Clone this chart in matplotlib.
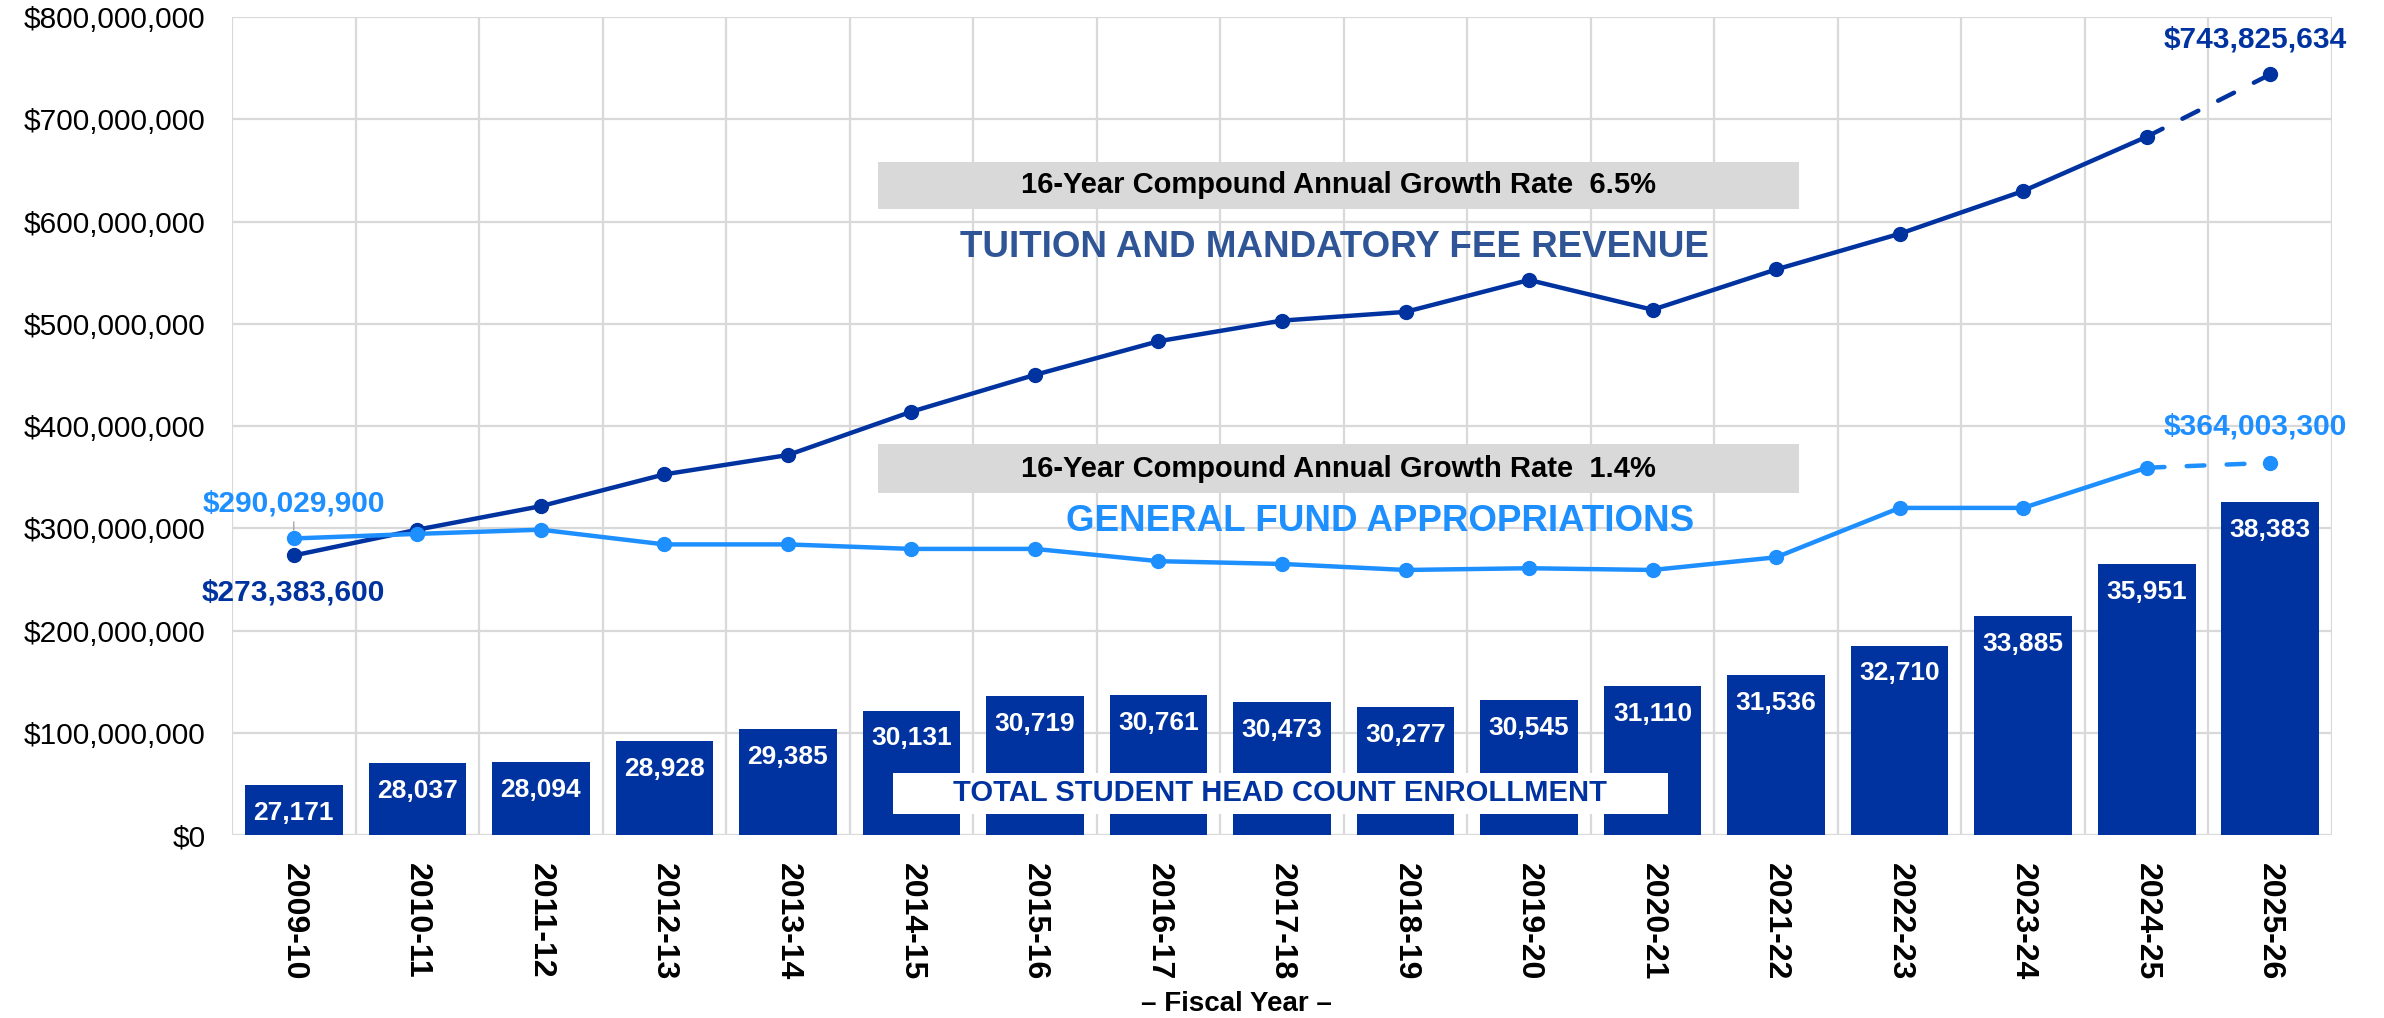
import numpy as np
import matplotlib
matplotlib.use("Agg")
import matplotlib.pyplot as plt
from matplotlib.patches import Rectangle
from matplotlib import transforms

plt.rcParams["font.family"] = ["Liberation Sans", "DejaVu Sans"]

years = ["2009-10", "2010-11", "2011-12", "2012-13", "2013-14", "2014-15", "2015-16",
         "2016-17", "2017-18", "2018-19", "2019-20", "2020-21", "2021-22", "2022-23",
         "2023-24", "2024-25", "2025-26"]

enrollment = [27171, 28037, 28094, 28928, 29385, 30131, 30719, 30761, 30473, 30277,
              30545, 31110, 31536, 32710, 33885, 35951, 38383]

tuition = [273383600, 298600000, 321600000, 352700000, 371600000, 414000000, 450000000,
           482900000, 503100000, 511600000, 542800000, 513700000, 553100000, 588000000,
           629800000, 682900000, 743825634]

general_fund = [290029900, 294500000, 298600000, 284200000, 284200000, 279800000, 279800000,
                267800000, 265100000, 259200000, 260900000, 259200000, 271600000, 319900000,
                319900000, 359200000, 364003300]

cagr_tuition = "16-Year Compound Annual Growth Rate  6.5%"
cagr_gf = "16-Year Compound Annual Growth Rate  1.4%"

DARK = "#0033A0"
LIGHT = "#1E8FFF"
STEEL = "#2F5597"
GRID = "#D9D9D9"

x = np.arange(len(years))

fig = plt.figure(figsize=(23.84, 10.18), dpi=100)
ax = fig.add_axes([0.09732, 0.17976, 0.88087, 0.80354])
ax2 = ax.twinx()

# axes + grid
ax.set_xlim(-0.5, len(years) - 0.5)
ax.set_ylim(0, 800_000_000)
ax.set_yticks(np.arange(0, 800_000_001, 100_000_000))
ax.yaxis.set_major_formatter(matplotlib.ticker.FuncFormatter(lambda v, p: f"${v:,.0f}"))
ax.set_xticks(x)
ax.set_xticks(np.arange(-0.5, len(years), 1), minor=True)
ax.set_xticklabels(years, rotation=270, fontsize=23, fontweight="bold")
ax.tick_params(axis="x", which="both", length=0, pad=20)
ax.tick_params(axis="y", length=0, pad=19, labelsize=21.5)
ax.grid(True, axis="y", color=GRID, lw=1.6)
ax.grid(True, axis="x", which="minor", color=GRID, lw=1.6)
ax.grid(False, axis="x", which="major")
ax.set_axisbelow(True)
for s in ax.spines.values():
    s.set_visible(False)

# enrollment bars on a hidden secondary scale
ax2.set_ylim(25200, 57630)
ax2.set_yticks([])
for s in ax2.spines.values():
    s.set_visible(False)
bars = ax2.bar(x, enrollment, width=0.79, color=DARK, zorder=2)
for rect, val in zip(bars, enrollment):
    ax2.annotate(f"{val:,}", (rect.get_x() + rect.get_width() / 2, val),
                 xytext=(0, -20), textcoords="offset points", ha="center", va="center",
                 color="white", fontsize=19, fontweight="bold", zorder=3)

# lines: solid through 2024-25, dashed projection to 2025-26
for vals, col in [(tuition, DARK), (general_fund, LIGHT)]:
    ax.plot(x[:-1], vals[:-1], color=col, lw=3.2, marker="o", ms=10, zorder=4)
    ax.plot(x[-2:], vals[-2:], color=col, lw=3.2, ls=(0, (4, 5)),
            dash_capstyle="round", zorder=4)
    ax.plot(x[-1:], vals[-1:], color=col, marker="o", ms=10, ls="", zorder=4)

lbl = dict(ha="center", va="center", fontsize=21.5, fontweight="bold",
           textcoords="offset points")
ax.annotate(f"${tuition[0]:,}", (x[0], tuition[0]), xytext=(0, -27), color=DARK, **lbl)
ax.annotate(f"${general_fund[0]:,}", (x[0], general_fund[0]), xytext=(0, 25), color=LIGHT,
            arrowprops=dict(arrowstyle="-", color="#A6A6A6", lw=1, shrinkA=1, shrinkB=6), **lbl)
ax.annotate(f"${tuition[-1]:,}", (x[-1], tuition[-1]), xytext=(-11, 25), color=DARK, **lbl)
ax.annotate(f"${general_fund[-1]:,}", (x[-1], general_fund[-1]), xytext=(-11, 26), color=LIGHT, **lbl)

# growth-rate boxes and series titles
trans = transforms.blended_transform_factory(ax.transAxes, ax.transData)
ax.add_patch(Rectangle((0.3076, 612e6), 0.4386, 46e6, transform=trans,
                       facecolor=GRID, edgecolor="none", zorder=3))
ax.add_patch(Rectangle((0.3076, 334e6), 0.4386, 48e6, transform=trans,
                       facecolor=GRID, edgecolor="none", zorder=3))
ax.text(0.527, 636e6, cagr_tuition, transform=trans, ha="center", va="center",
        fontsize=21, fontweight="bold", zorder=4)
ax.text(0.527, 358e6, cagr_gf, transform=trans, ha="center", va="center",
        fontsize=21, fontweight="bold", zorder=4)
ax.text(0.525, 575e6, "TUITION AND MANDATORY FEE REVENUE", transform=trans,
        ha="center", va="center", fontsize=26.5, fontweight="bold", color=STEEL, zorder=4)
ax.text(0.5467, 307e6, "GENERAL FUND APPROPRIATIONS", transform=trans,
        ha="center", va="center", fontsize=26.5, fontweight="bold", color=LIGHT, zorder=4)

ax2.add_patch(Rectangle((0.3147, 20.5e6), 0.3690, 40e6, transform=trans,
                        facecolor="white", edgecolor="none", zorder=5))
ax2.text(0.499, 41e6, "TOTAL STUDENT HEAD COUNT ENROLLMENT", transform=trans,
         ha="center", va="center", fontsize=21, fontweight="bold", color=DARK, zorder=6)

fig.text(0.5185, 0.0138, "\u2013 Fiscal Year \u2013", ha="center", va="center",
         fontsize=20, fontweight="bold")

fig.savefig("out.png", dpi=100)
